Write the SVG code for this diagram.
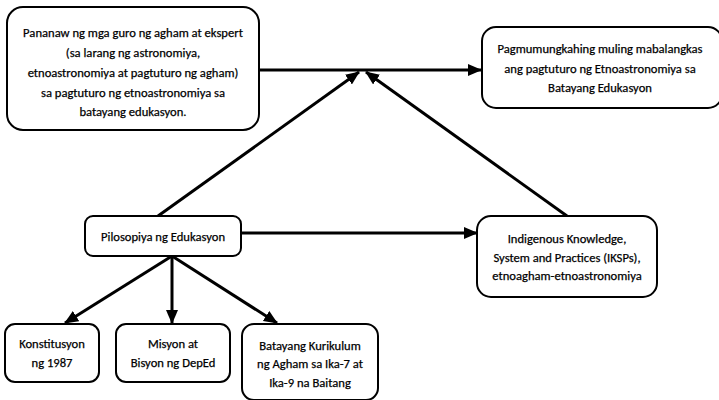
<svg xmlns="http://www.w3.org/2000/svg" width="719" height="400" viewBox="0 0 719 400">
<style>
.box{fill:#fff;stroke:#000;stroke-width:2}
.t{font-family:Carlito,"Open Sans",Lato,sans-serif;font-size:12.6px;fill:#000;stroke:#000;stroke-width:0.25;text-anchor:middle}
.c{stroke:#000;stroke-width:3;fill:none}
</style>
<defs>
<marker id="ah" markerUnits="userSpaceOnUse" markerWidth="14" markerHeight="12" refX="13" refY="6" orient="auto">
<path d="M0,0 L14,6 L0,12 Z" fill="#000"/>
</marker>
</defs>
<rect width="719" height="400" fill="#fff"/>
<g id="connectors">
<line class="c" x1="259" y1="70" x2="481" y2="70" marker-end="url(#ah)"/>
<line class="c" x1="158" y1="216" x2="359" y2="72" marker-end="url(#ah)"/>
<line class="c" x1="567" y1="216" x2="366" y2="72" marker-end="url(#ah)"/>
<line class="c" x1="241" y1="233" x2="477" y2="233" marker-end="url(#ah)"/>
<line class="c" x1="172" y1="256" x2="65" y2="323" marker-end="url(#ah)"/>
<line class="c" x1="172" y1="256" x2="172" y2="323" marker-end="url(#ah)"/>
<line class="c" x1="172" y1="256" x2="277" y2="323" marker-end="url(#ah)"/>
</g>
<g id="pananaw">
<rect class="box" x="7" y="7" width="252" height="123" rx="16"/>
<text class="t" x="133" y="37">Pananaw ng mga guro ng agham at ekspert</text>
<text class="t" x="133" y="57">(sa larang ng astronomiya,</text>
<text class="t" x="133" y="77">etnoastronomiya at pagtuturo ng agham)</text>
<text class="t" x="133" y="97">sa pagtuturo ng etnoastronomiya sa</text>
<text class="t" x="133" y="116">batayang edukasyon.</text>
</g>
<g id="pagmumungkahi">
<rect class="box" x="482" y="27" width="240" height="81" rx="14"/>
<text class="t" x="600" y="53">Pagmumungkahing muling mabalangkas</text>
<text class="t" x="600" y="73">ang pagtuturo ng Etnoastronomiya sa</text>
<text class="t" x="600" y="92">Batayang Edukasyon</text>
</g>
<g id="pilosopiya">
<rect class="box" x="85" y="216" width="156" height="40" rx="8"/>
<text class="t" x="163" y="241">Pilosopiya ng Edukasyon</text>
</g>
<g id="iksp">
<rect class="box" x="477" y="216" width="180" height="81" rx="14"/>
<text class="t" x="567" y="243">Indigenous Knowledge,</text>
<text class="t" x="567" y="262">System and Practices (IKSPs),</text>
<text class="t" x="567" y="280">etnoagham-etnoastronomiya</text>
</g>
<g id="konstitusyon">
<rect class="box" x="5" y="324" width="94" height="58" rx="10"/>
<text class="t" x="52" y="348">Konstitusyon</text>
<text class="t" x="52" y="367">ng 1987</text>
</g>
<g id="misyon">
<rect class="box" x="116" y="324" width="114" height="58" rx="10"/>
<text class="t" x="173" y="348">Misyon at</text>
<text class="t" x="173" y="367">Bisyon ng DepEd</text>
</g>
<g id="kurikulum">
<rect class="box" x="242" y="324" width="136" height="76" rx="12"/>
<text class="t" x="310" y="350">Batayang Kurikulum</text>
<text class="t" x="310" y="368">ng Agham sa Ika-7 at</text>
<text class="t" x="310" y="387">Ika-9 na Baitang</text>
</g>
</svg>
